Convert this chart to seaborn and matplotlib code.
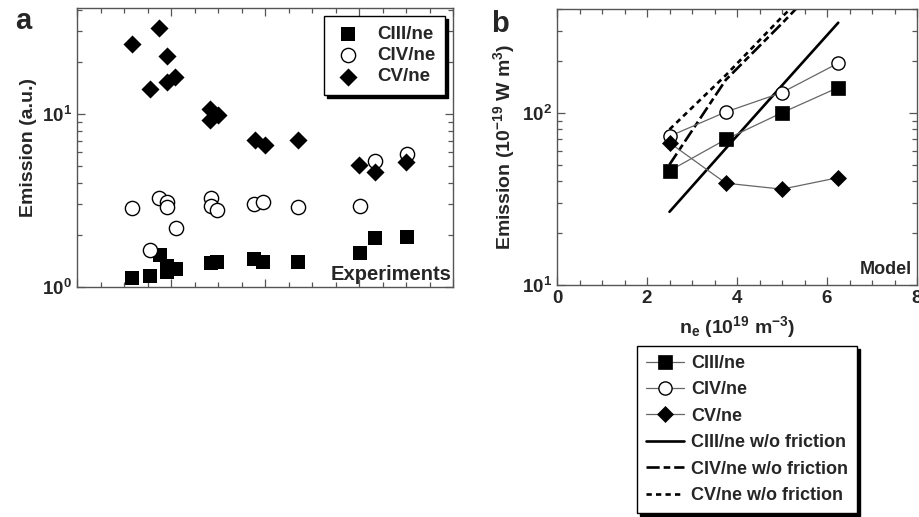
import numpy as np
import pandas as pd
import matplotlib
matplotlib.use('Agg')
import matplotlib.pyplot as plt
import seaborn as sns
from matplotlib.ticker import MultipleLocator, LogLocator, NullFormatter, FuncFormatter


#  panel a: experiments (x axis unlabelled, same 0-8 span as panel b)
exp_x_ciii = [1.18, 1.55, 1.77, 1.91, 1.91, 2.11, 2.86, 2.98, 3.77, 3.96, 4.71, 6.02, 6.34, 7.03]
exp_ciii   = [1.13, 1.15, 1.53, 1.33, 1.22, 1.27, 1.37, 1.40, 1.45, 1.40, 1.40, 1.57, 1.91, 1.94]

exp_x_civ  = [1.18, 1.55, 1.74, 1.91, 1.91, 2.10, 2.86, 2.86, 2.98, 3.77, 3.96, 4.71, 6.02, 6.34, 7.03]
exp_civ    = [2.87, 1.64, 3.26, 3.11, 2.91, 2.18, 3.26, 2.94, 2.79, 3.02, 3.11, 2.91, 2.95, 5.35, 5.87]

exp_x_cv   = [1.18, 1.74, 1.91, 1.55, 1.91, 2.09, 2.84, 2.82, 3.01, 3.79, 3.99, 4.70, 6.01, 6.34, 7.01]
exp_cv     = [25.3, 31.5, 21.6, 13.9, 15.4, 16.4, 10.7, 9.2, 9.9, 7.1, 6.6, 7.1, 5.1, 4.6, 5.3]

#  panel b: model
ne            = [2.5, 3.75, 5.0, 6.25]
model_ciii    = [46, 70, 100, 140]
model_civ     = [73, 101, 131, 194]
model_cv      = [67, 39, 36, 42]
nofric_ciii   = [26.6, 62, 144, 333]
nofric_civ    = [50, 155, 330, 720]
nofric_cv     = [80, 165, 360, 740]


sns.set_style('ticks')
plt.rcParams['font.family'] = ['Liberation Sans', 'DejaVu Sans']
plt.rcParams['font.weight'] = 'bold'
plt.rcParams['axes.labelweight'] = 'bold'
plt.rcParams['mathtext.fontset'] = 'custom'
plt.rcParams['mathtext.rm'] = 'Liberation Sans:bold'
plt.rcParams['mathtext.it'] = 'Liberation Sans:bold'
plt.rcParams['mathtext.bf'] = 'Liberation Sans:bold'
plt.rcParams['mathtext.default'] = 'rm'

SPINE = '#555555'
SHADOW = {'ox': 2.2, 'oy': -2.2, 'facecolor': 'black', 'edgecolor': 'black', 'alpha': 1}

fig = plt.figure(figsize=(9.19, 5.17), dpi=100)
ax_a = fig.add_axes([77/919, 1-287/517, 376/919, 279/517])
ax_b = fig.add_axes([557/919, 1-285/517, 360/919, 276/517])

pow_fmt = FuncFormatter(lambda v, _: r'$10^{%d}$' % round(np.log10(v)))


def style_axes(ax, ylim):
    ax.set_yscale('log')
    ax.set_xlim(0, 8)
    ax.set_ylim(*ylim)
    ax.xaxis.set_major_locator(MultipleLocator(2))
    ax.xaxis.set_minor_locator(MultipleLocator(0.5))
    ax.yaxis.set_major_locator(LogLocator(base=10))
    ax.yaxis.set_minor_locator(LogLocator(base=10, subs=range(2, 10)))
    ax.yaxis.set_major_formatter(pow_fmt)
    ax.yaxis.set_minor_formatter(NullFormatter())
    ax.tick_params(which='both', direction='in', top=True, right=True,
                   color=SPINE, width=0.9, labelsize=13.5)
    ax.tick_params(which='major', length=6)
    ax.tick_params(which='minor', length=3.5)
    for s in ax.spines.values():
        s.set_color(SPINE)
        s.set_linewidth(1.0)


# ── panel a ────────────────────────────────────────────
sns.scatterplot(x=exp_x_ciii, y=exp_ciii, marker='s', s=105, color='black',
                edgecolor='black', linewidth=0, ax=ax_a, label='CIII/ne', zorder=3)
sns.scatterplot(x=exp_x_civ, y=exp_civ, marker='o', s=105, facecolor='white',
                edgecolor='black', linewidth=1.0, ax=ax_a, label='CIV/ne', zorder=4)
sns.scatterplot(x=exp_x_cv, y=exp_cv, marker='D', s=85, color='black',
                edgecolor='black', linewidth=0, ax=ax_a, label='CV/ne', zorder=5)
style_axes(ax_a, (1, 41))
ax_a.tick_params(labelbottom=False)
ax_a.set_xlabel('')
ax_a.set_ylabel('Emission (a.u.)', fontsize=14, labelpad=4)
ax_a.legend(loc='upper right', bbox_to_anchor=(1, 1), borderaxespad=0.45,
            fontsize=13.5, scatterpoints=1, handlelength=1.6, handletextpad=0.75,
            labelspacing=0.22, borderpad=0.5, fancybox=False, framealpha=1,
            edgecolor='black', shadow=SHADOW)
ax_a.text(0.997, 0.012, 'Experiments', transform=ax_a.transAxes, ha='right',
          va='bottom', fontsize=14.5, fontweight='bold')

# ── panel b ────────────────────────────────────────────
sns.lineplot(x=ne, y=nofric_ciii, color='black', linewidth=1.9, ax=ax_b,
             label='CIII/ne w/o friction', zorder=2)
sns.lineplot(x=ne, y=nofric_civ, color='black', linewidth=1.9, ax=ax_b,
             linestyle=(0, (5, 1.5, 2.5, 1.5)), label='CIV/ne w/o friction', zorder=2)
sns.lineplot(x=ne, y=nofric_cv, color='black', linewidth=1.9, ax=ax_b,
             linestyle=(0, (2, 1.6)), label='CV/ne w/o friction', zorder=2)

sns.lineplot(x=ne, y=model_ciii, color='#666666', linewidth=0.9, marker='s',
             markersize=9.5, markerfacecolor='black', markeredgecolor='black',
             markeredgewidth=0.5, ax=ax_b, label='CIII/ne', zorder=3)
sns.lineplot(x=ne, y=model_civ, color='#666666', linewidth=0.9, marker='o',
             markersize=9.5, markerfacecolor='white', markeredgecolor='black',
             markeredgewidth=1.0, ax=ax_b, label='CIV/ne', zorder=3)
sns.lineplot(x=ne, y=model_cv, color='#666666', linewidth=0.9, marker='D',
             markersize=8, markerfacecolor='black', markeredgecolor='black',
             markeredgewidth=0.5, ax=ax_b, label='CV/ne', zorder=4)
style_axes(ax_b, (10, 400))
ax_b.set_ylabel('Emission (10$^{-19}$ W m$^{3}$)', fontsize=14, labelpad=4)
ax_b.set_xlabel('n$_{e}$ (10$^{19}$ m$^{-3}$)', fontsize=14, labelpad=5)
ax_b.text(0.985, 0.025, 'Model', transform=ax_b.transAxes, ha='right',
          va='bottom', fontsize=13, fontweight='bold')
if ax_b.get_legend() is not None:
    ax_b.get_legend().remove()

handles, labels = ax_b.get_legend_handles_labels()
order = ['CIII/ne', 'CIV/ne', 'CV/ne',
         'CIII/ne w/o friction', 'CIV/ne w/o friction', 'CV/ne w/o friction']
hmap = dict(zip(labels, handles))
fig.legend([hmap[k] for k in order], order, loc='upper left',
           bbox_to_anchor=(637/919, 1-346/517), borderaxespad=0,
           fontsize=13, handlelength=2.1, handletextpad=0.4, labelspacing=0.52,
           borderpad=0.5, fancybox=False, framealpha=1, edgecolor='black',
           shadow=SHADOW)

fig.text(15/919, 1-29/517, 'a', fontsize=21, fontweight='bold', va='baseline')
fig.text(491/919, 1-32/517, 'b', fontsize=21, fontweight='bold', va='baseline')

fig.savefig('out.png', dpi=100)
